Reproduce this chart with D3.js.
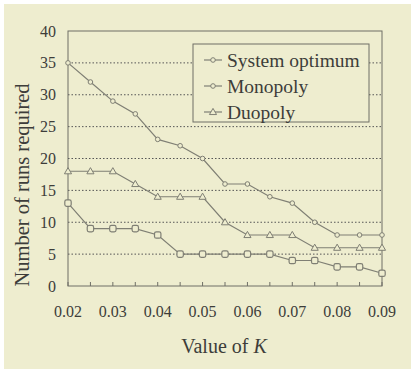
<!DOCTYPE html>
<html>
<head>
<meta charset="utf-8">
<script src="https://cdn.jsdelivr.net/npm/d3@7.9.0/dist/d3.min.js"></script>
<style>
  html, body { margin: 0; padding: 0; background: #fff; }
  svg { display: block; font-family: "Liberation Serif", "DejaVu Serif", serif; }
</style>
</head>
<body>
<svg id="chart" width="415" height="372"></svg>
<script>
const kValues = [0.02, 0.025, 0.03, 0.035, 0.04, 0.045, 0.05, 0.055, 0.06, 0.065, 0.07, 0.075, 0.08, 0.085, 0.09];
const systemOptimum = [35, 32, 29, 27, 23, 22, 20, 16, 16, 14, 13, 10, 8, 8, 8];
const monopoly = [13, 9, 9, 9, 8, 5, 5, 5, 5, 5, 4, 4, 3, 3, 2];
const duopoly = [18, 18, 18, 16, 14, 14, 14, 10, 8, 8, 8, 6, 6, 6, 6];
const yTicks = [0, 5, 10, 15, 20, 25, 30, 35, 40];
const xTickLabels = [0.02, 0.03, 0.04, 0.05, 0.06, 0.07, 0.08, 0.09];

const bg = '#eeedcf';
const lineColor = '#7f7f74';
const textColor = '#3d3d3a';

const svg = d3.select('#chart');
svg.append('rect').attr('x', 4).attr('y', 4).attr('width', 407).attr('height', 365).attr('fill', bg);

const plotL = 68, plotR = 382, plotT = 31, plotB = 286;
const x = d3.scaleLinear().domain([0.02, 0.09]).range([plotL, plotR]);
const y = d3.scaleLinear().domain([0, 40]).range([plotB, plotT]);

// dotted gridlines
svg.append('g').selectAll('line')
    .data(yTicks.filter(d => d > 0 && d < 40))
    .join('line')
    .attr('x1', plotL).attr('x2', plotR)
    .attr('y1', d => y(d)).attr('y2', d => y(d))
    .attr('stroke', '#555')
    .attr('stroke-width', 1)
    .attr('stroke-dasharray', '1.5,2');

// frame
svg.append('rect')
    .attr('x', plotL).attr('y', plotT)
    .attr('width', plotR - plotL).attr('height', plotB - plotT)
    .attr('fill', 'none').attr('stroke', '#6f6f66').attr('stroke-width', 1);

// x ticks pointing up
svg.append('g').selectAll('line')
    .data(kValues)
    .join('line')
    .attr('x1', d => x(d)).attr('x2', d => x(d))
    .attr('y1', plotB).attr('y2', plotB - 4)
    .attr('stroke', '#6f6f66');

// y tick labels
svg.append('g').selectAll('text')
    .data(yTicks)
    .join('text')
    .attr('x', 56).attr('y', d => y(d))
    .attr('dy', '0.35em')
    .attr('text-anchor', 'end')
    .attr('font-size', 16)
    .attr('fill', textColor)
    .text(d => d);

// x tick labels
svg.append('g').selectAll('text')
    .data(xTickLabels)
    .join('text')
    .attr('x', d => x(d)).attr('y', 311)
    .attr('dy', '0.35em')
    .attr('text-anchor', 'middle')
    .attr('font-size', 16)
    .attr('fill', textColor)
    .text(d => d.toFixed(2));

// axis titles
svg.append('text')
    .attr('x', 224).attr('y', 353)
    .attr('text-anchor', 'middle')
    .attr('font-size', 20)
    .attr('fill', textColor)
    .html('Value of <tspan font-style="italic">K</tspan>');

svg.append('text')
    .attr('transform', 'translate(29,185) rotate(-90)')
    .attr('text-anchor', 'middle')
    .attr('font-size', 20.5)
    .attr('fill', textColor)
    .text('Number of runs required');

const line = d3.line().x((d, i) => x(kValues[i])).y(d => y(d));

const series = [
    { name: 'System optimum', values: systemOptimum, marker: 'circle' },
    { name: 'Monopoly', values: monopoly, marker: 'square' },
    { name: 'Duopoly', values: duopoly, marker: 'triangle' }
];

function drawMarker(g, type, cx, cy) {
    if (type === 'circle') {
        g.append('circle').attr('cx', cx).attr('cy', cy).attr('r', 2.3)
            .attr('fill', bg).attr('stroke', lineColor).attr('stroke-width', 1);
    } else if (type === 'square') {
        g.append('rect').attr('x', cx - 3.2).attr('y', cy - 3.2).attr('width', 6.4).attr('height', 6.4)
            .attr('rx', 1.8)
            .attr('fill', bg).attr('stroke', lineColor).attr('stroke-width', 1.2);
    } else {
        g.append('path')
            .attr('d', d3.symbol().type(d3.symbolTriangle).size(22)())
            .attr('transform', `translate(${cx},${cy + 0.5})`)
            .attr('fill', bg).attr('stroke', lineColor).attr('stroke-width', 1);
    }
}

series.forEach(s => {
    svg.append('path')
        .datum(s.values)
        .attr('d', line)
        .attr('fill', 'none')
        .attr('stroke', lineColor)
        .attr('stroke-width', 1.2);
    const g = svg.append('g');
    s.values.forEach((v, i) => drawMarker(g, s.marker, x(kValues[i]), y(v)));
});

// legend
svg.append('rect')
    .attr('x', 193).attr('y', 44).attr('width', 176).attr('height', 78)
    .attr('fill', bg).attr('stroke', '#6f6f66').attr('stroke-width', 1);

series.forEach((s, i) => {
    const ly = 60 + i * 26;
    const g = svg.append('g');
    g.append('line').attr('x1', 204).attr('x2', 222).attr('y1', ly).attr('y2', ly)
        .attr('stroke', lineColor).attr('stroke-width', 1.2);
    drawMarker(g, s.marker === 'square' ? 'circle' : s.marker, 213, ly);
    g.append('text')
        .attr('x', 227).attr('y', ly)
        .attr('dy', '0.35em')
        .attr('font-size', 19.5)
        .attr('fill', textColor)
        .text(s.name);
});
</script>
</body>
</html>
